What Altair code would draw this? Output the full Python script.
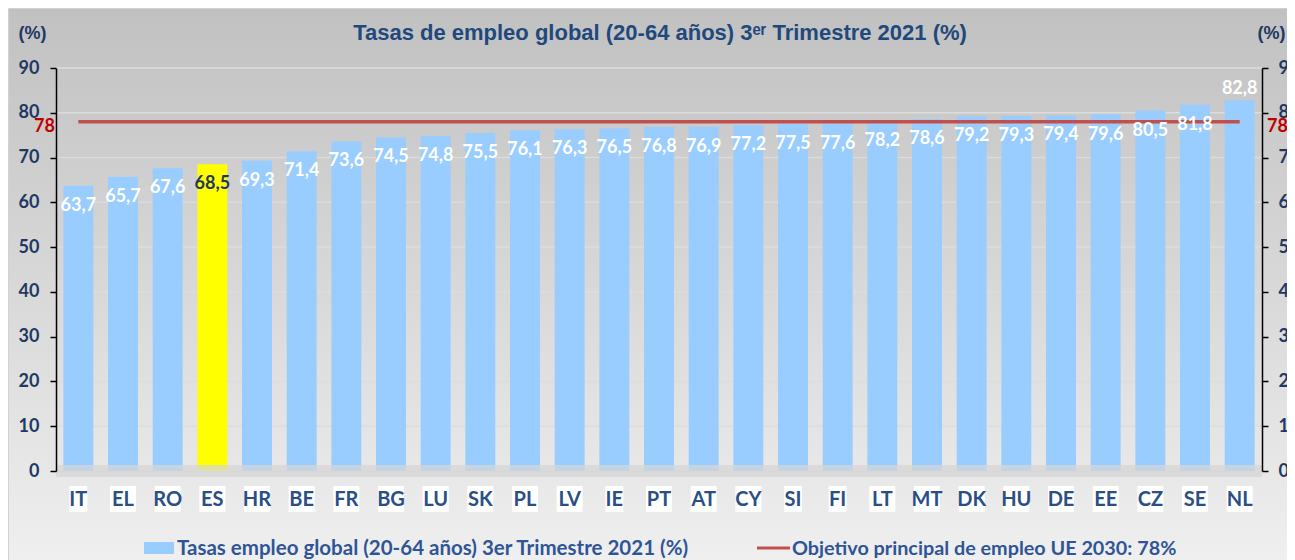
import altair as alt
import pandas as pd

countries = ["IT", "EL", "RO", "ES", "HR", "BE", "FR", "BG", "LU", "SK", "PL", "LV", "IE", "PT",
             "AT", "CY", "SI", "FI", "LT", "MT", "DK", "HU", "DE", "EE", "CZ", "SE", "NL"]
values = [63.7, 65.7, 67.6, 68.5, 69.3, 71.4, 73.6, 74.5, 74.8, 75.5, 76.1, 76.3, 76.5, 76.8,
          76.9, 77.2, 77.5, 77.6, 78.2, 78.6, 79.2, 79.3, 79.4, 79.6, 80.5, 81.8, 82.8]
highlight = "ES"
target = 78
tick_vals = [0, 10, 20, 30, 40, 50, 60, 70, 80, 90]

title_text = "Tasas de empleo global (20-64 años) 3ᵉʳ Trimestre 2021 (%)"
legend_bar = "Tasas empleo global (20-64 años)  3er Trimestre 2021 (%)"
legend_line = "Objetivo principal de empleo UE 2030: 78%"

W, H = 1206, 403
NAVY = "#1f3864"
LEG = "#2f5597"

df = pd.DataFrame({"pais": countries, "tasa": values})
df["etiqueta"] = df["tasa"].map(lambda v: f"{v:.1f}".replace(".", ","))
tgt = pd.DataFrame({"pais": [countries[0], countries[-1]], "obj": [target, target]})
one = pd.DataFrame({"k": [0]})
grid_df = pd.DataFrame({"v": tick_vals})

yscale = alt.Scale(domain=[0, 90], nice=False, zero=True)
xscale = alt.Scale(domain=countries, paddingInner=0.33, paddingOuter=0.165)
xenc = alt.X("pais:N", sort=countries, scale=xscale, axis=None)


def yaxis(orient, tx, pad):
    return alt.Axis(orient=orient, values=tick_vals, title="(%)", titleAngle=0, titleX=tx, titleY=-35,
                    titleAlign="center", titleBaseline="middle", titleFont="Liberation Sans",
                    titleFontWeight="bold", titleFontSize=18, titleColor=NAVY,
                    labelFont="Lato", labelFontWeight="bold", labelFontSize=18, labelColor=NAVY,
                    labelPadding=pad, tickColor="black", tickSize=6, tickWidth=1.5, domainColor="black",
                    domainWidth=1.5, grid=False, zindex=1)


bg = alt.Chart(one).mark_rect(
    color=alt.LinearGradient(gradient="linear",
                             stops=[alt.GradientStop(color="#c1c1c1", offset=0),
                                    alt.GradientStop(color="#f0f0f0", offset=1)],
                             x1=0, x2=0, y1=0, y2=1),
    stroke="#d2d2d2", strokeWidth=1
).encode(x=alt.value(-47.5), x2=alt.value(W + 60), y=alt.value(-59.5), y2=alt.value(H + 100))

grid = alt.Chart(grid_df).mark_rule(color="#dcdcdc", strokeWidth=1.5).encode(
    y=alt.Y("v:Q", scale=yscale, axis=None), x=alt.value(0), x2=alt.value(W))

bars = alt.Chart(df).mark_bar().encode(
    x=xenc,
    y=alt.Y("tasa:Q", scale=yscale, axis=yaxis("left", -24, 11)),
    color=alt.condition(f"datum.pais == '{highlight}'", alt.value("#ffff00"), alt.value("#99ccff")),
)

floor = alt.Chart(one).mark_rect(color="#d6d6d6", opacity=0.75).encode(
    x=alt.value(0), x2=alt.value(W), y=alt.value(H - 6), y2=alt.value(H + 6))

line = alt.Chart(tgt).mark_line(color="#c0504d", strokeWidth=3.5).encode(
    x=alt.X("pais:N", sort=countries, scale=xscale, axis=None),
    y=alt.Y("obj:Q", scale=yscale, axis=yaxis("right", 9, 10)),
)

lab_style = dict(font="Lato", fontWeight="bold", fontSize=18, baseline="middle")
lab_color = alt.condition(f"datum.pais == '{highlight}'", alt.value(NAVY), alt.value("white"))
labels_in = alt.Chart(df).transform_filter(f"datum.pais != '{countries[-1]}'").mark_text(
    dy=20, **lab_style).encode(x=xenc, y=alt.Y("tasa:Q", scale=yscale, axis=None),
                               text="etiqueta:N", color=lab_color)
labels_out = alt.Chart(df).transform_filter(f"datum.pais == '{countries[-1]}'").mark_text(
    dy=-11, **lab_style).encode(x=xenc, y=alt.Y("tasa:Q", scale=yscale, axis=None),
                                text="etiqueta:N", color=lab_color)

# category labels with white boxes (as in the original)
cat_box = alt.Chart(df).mark_rect(
    color="white", width=alt.ExprRef("test(/I/, datum.pais) ? 18 : 26")
).encode(x=xenc, y=alt.value(418), y2=alt.value(444))
cat_txt = alt.Chart(df).mark_text(font="Lato", fontWeight="bold", fontSize=20, color="#2a4f86",
                                  baseline="middle").encode(
    x=xenc, y=alt.value(432), text="pais:N")

t78_style = dict(font="Lato", fontWeight="bold", fontSize=18, color="#c00000", baseline="middle", dy=5)
t78 = alt.Chart(tgt.iloc[:1])
t78_left = t78.mark_text(align="right", **t78_style).encode(
    x=alt.value(-1), y=alt.Y("obj:Q", scale=yscale, axis=None), text=alt.Text("obj:Q"))
t78_right = t78.mark_text(align="left", **t78_style).encode(
    x=alt.value(W + 5), y=alt.Y("obj:Q", scale=yscale, axis=None), text=alt.Text("obj:Q"))

title = alt.Chart(one).mark_text(text=title_text, font="Liberation Sans", fontWeight="bold",
                                 fontSize=22, color="#1f497d", align="center", baseline="middle").encode(
    x=alt.value(W / 2 + 1), y=alt.value(-35))

LY = 480
leg_sw = alt.Chart(one).mark_rect(color="#99ccff").encode(
    x=alt.value(88), x2=alt.value(118), y=alt.value(LY - 6), y2=alt.value(LY + 6))
leg_t1 = alt.Chart(one).mark_text(text=legend_bar, font="Lato", fontWeight="bold", fontSize=20.5,
                                  color=LEG, align="left", baseline="middle").encode(
    x=alt.value(121), y=alt.value(LY + 1))
leg_ln = alt.Chart(one).mark_rule(color="#c0504d", strokeWidth=3).encode(
    x=alt.value(701), x2=alt.value(734), y=alt.value(LY))
leg_t2 = alt.Chart(one).mark_text(text=legend_line, font="Lato", fontWeight="bold", fontSize=19.8,
                                  color=LEG, align="left", baseline="middle").encode(
    x=alt.value(736), y=alt.value(LY + 1))

chart = alt.layer(
    bg, grid, bars, floor, line, labels_in, labels_out, cat_box, cat_txt, t78_left, t78_right, title,
    leg_sw, leg_t1, leg_ln, leg_t2
).resolve_axis(y="independent").properties(
    width=W, height=H,
    padding={"left": 48, "top": 60, "right": 25, "bottom": 89},
    autosize=alt.AutoSizeParams(type="none"),
    background="white",
).configure_view(stroke=None)

chart.save("out.html", embed_options={"renderer": "svg", "actions": False})
